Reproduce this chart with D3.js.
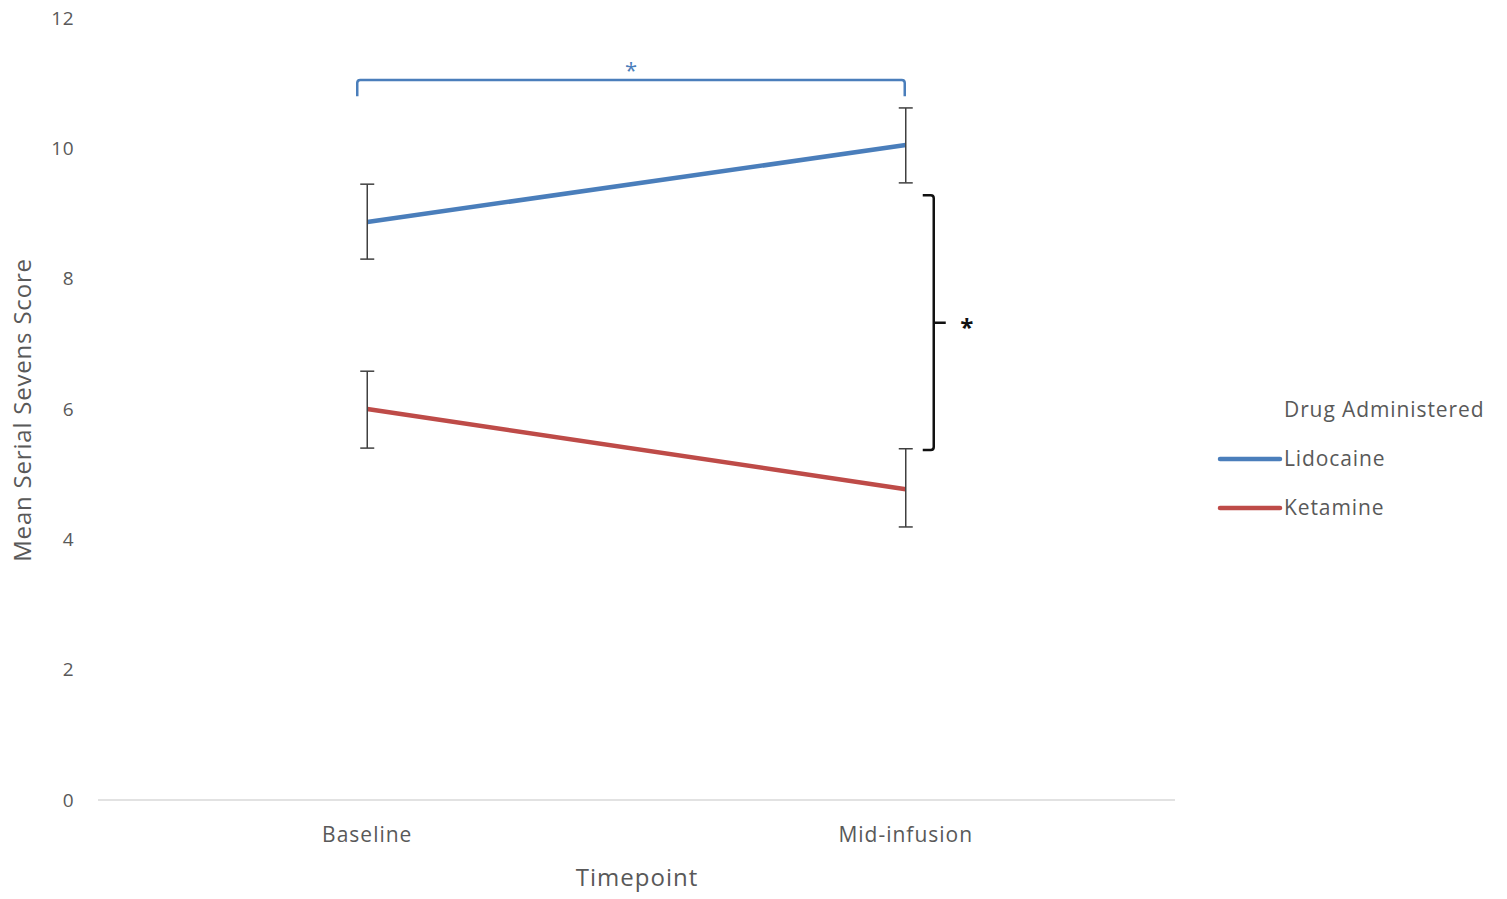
<!DOCTYPE html>
<html>
    <head>
        <style>
         body { margin: 0; background: #ffffff; }
         text { font-family: "Open Sans", "DejaVu Sans", sans-serif; fill: #595959; }
        </style>
        <script src="https://d3js.org/d3.v7.min.js"></script>
    </head>
    <body>
        <svg id="chart" width="1507" height="899"></svg>
        <script>
         var timepoints = ["Baseline", "Mid-infusion"];
         var yTicks = [0, 2, 4, 6, 8, 10, 12];
         var seriesNames = ["Lidocaine", "Ketamine"];
         var lidocaineMean = [8.87, 10.05];
         var lidocaineLow = [8.30, 9.47];
         var lidocaineHigh = [9.45, 10.62];
         var ketamineMean = [6.0, 4.77];
         var ketamineLow = [5.40, 4.19];
         var ketamineHigh = [6.58, 5.39];
         var colors = ["#4a7ebb", "#be4b48"];

         var svg = d3.select("#chart");

         var x = d3.scaleBand().domain(timepoints).range([98, 1175]),
             y = d3.scaleLinear().domain([0, 12]).range([800, 18]);
         var cx = function(d) { return x(d) + x.bandwidth() / 2; };

         // x axis line
         svg.append("line")
            .attr("x1", 98).attr("x2", 1175)
            .attr("y1", y(0)).attr("y2", y(0))
            .attr("stroke", "#d9d9d9").attr("stroke-width", 1.3);

         // y tick labels
         svg.selectAll(".ytick")
            .data(yTicks)
            .enter().append("text")
            .attr("x", 74)
            .attr("y", function(d) { return y(d); })
            .attr("dy", "0.35em")
            .attr("text-anchor", "end")
            .style("font-size", "19px")
            .style("letter-spacing", "0.5px")
            .text(function(d) { return d; });

         // x tick labels
         svg.selectAll(".xtick")
            .data(timepoints)
            .enter().append("text")
            .attr("x", cx)
            .attr("y", 842)
            .attr("text-anchor", "middle")
            .style("font-size", "21px")
            .style("letter-spacing", "1px")
            .text(function(d) { return d; });

         svg.append("text")
            .attr("x", 637).attr("y", 886)
            .attr("text-anchor", "middle")
            .style("font-size", "24px")
            .style("letter-spacing", "1px")
            .text("Timepoint");

         svg.append("text")
            .attr("transform", "translate(31,410) rotate(-90)")
            .attr("text-anchor", "middle")
            .style("font-size", "24px")
            .style("letter-spacing", "0.8px")
            .text("Mean Serial Sevens Score");

         var series = [
             {name: seriesNames[0], mean: lidocaineMean, low: lidocaineLow, high: lidocaineHigh, color: colors[0]},
             {name: seriesNames[1], mean: ketamineMean, low: ketamineLow, high: ketamineHigh, color: colors[1]}
         ];

         var line = d3.line()
                      .x(function(d) { return cx(d.t); })
                      .y(function(d) { return y(d.v); });

         series.forEach(function(s) {
             var pts = timepoints.map(function(t, i) { return {t: t, v: s.mean[i]}; });
             svg.append("path")
                .datum(pts)
                .attr("fill", "none")
                .attr("stroke", s.color)
                .attr("stroke-width", 4.5)
                .attr("d", line);

             // error bars
             timepoints.forEach(function(t, i) {
                 var g = svg.append("g").attr("stroke", "#404040").attr("stroke-width", 1.5);
                 g.append("line")
                  .attr("x1", cx(t)).attr("x2", cx(t))
                  .attr("y1", y(s.low[i])).attr("y2", y(s.high[i]));
                 [s.low[i], s.high[i]].forEach(function(v) {
                     g.append("line")
                      .attr("x1", cx(t) - 7).attr("x2", cx(t) + 7)
                      .attr("y1", y(v)).attr("y2", y(v));
                 });
             });
         });

         // significance bracket between timepoints (lidocaine)
         var bx1 = cx(timepoints[0]) - 10, bx2 = cx(timepoints[1]) - 1;
         svg.append("path")
            .attr("fill", "none")
            .attr("stroke", colors[0])
            .attr("stroke-width", 2.5)
            .attr("d", "M" + bx1 + "," + y(10.8) + " V" + (y(11.05) + 3) +
                       " Q" + bx1 + "," + y(11.05) + " " + (bx1 + 3) + "," + y(11.05) +
                       " H" + (bx2 - 3) +
                       " Q" + bx2 + "," + y(11.05) + " " + bx2 + "," + (y(11.05) + 3) +
                       " V" + y(10.8));
         svg.append("text")
            .attr("x", (bx1 + bx2) / 2).attr("y", 78)
            .attr("text-anchor", "middle")
            .style("font-size", "22px").style("fill", colors[0])
            .text("*");

         // significance bracket between drugs at mid-infusion
         var rx = cx(timepoints[1]) + 28, ry1 = y(9.28), ry2 = y(5.37), rm = (ry1 + ry2) / 2;
         svg.append("path")
            .attr("fill", "none")
            .attr("stroke", "#111")
            .attr("stroke-width", 2.5)
            .attr("d", "M" + (rx - 11) + "," + ry1 + " H" + (rx - 3) +
                       " Q" + rx + "," + ry1 + " " + rx + "," + (ry1 + 3) +
                       " V" + (ry2 - 3) +
                       " Q" + rx + "," + ry2 + " " + (rx - 3) + "," + ry2 +
                       " H" + (rx - 11) +
                       " M" + rx + "," + rm + " H" + (rx + 12));
         svg.append("text")
            .attr("x", rx + 33).attr("y", rm + 13)
            .attr("text-anchor", "middle")
            .style("font-size", "24px").style("font-weight", "bold").style("fill", "#111")
            .text("*");

         // legend
         svg.append("text")
            .attr("x", 1284).attr("y", 417)
            .style("font-size", "21px")
            .style("letter-spacing", "0.9px")
            .text("Drug Administered");
         series.forEach(function(s, i) {
             var ly = 459 + i * 49;
             svg.append("line")
                .attr("x1", 1220).attr("x2", 1280)
                .attr("y1", ly).attr("y2", ly)
                .attr("stroke", s.color).attr("stroke-width", 4.5)
                .attr("stroke-linecap", "round");
             svg.append("text")
                .attr("x", 1284).attr("y", ly)
                .attr("dy", "0.35em")
                .style("font-size", "21px")
                .style("letter-spacing", "0.9px")
                .text(s.name);
         });
        </script>
    </body>
</html>
